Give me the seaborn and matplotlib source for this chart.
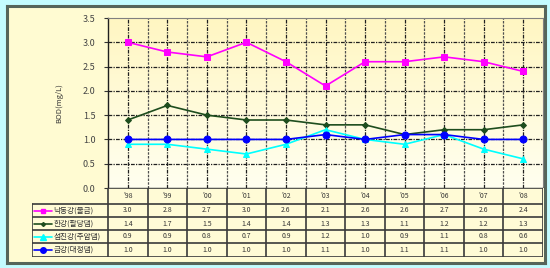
import numpy as np
import pandas as pd
import matplotlib
matplotlib.use('Agg')
import matplotlib.pyplot as plt
import seaborn as sns

years = ["'98", "'99", "'00", "'01", "'02", "'03", "'04", "'05", "'06", "'07", "'08"]
series_names = ['낙동강(물금)', '한강(팔당댐)', '섬진강(주암댐)', '금강(대청댐)']
nakdong = [3.0, 2.8, 2.7, 3.0, 2.6, 2.1, 2.6, 2.6, 2.7, 2.6, 2.4]
han = [1.4, 1.7, 1.5, 1.4, 1.4, 1.3, 1.3, 1.1, 1.2, 1.2, 1.3]
seomjin = [0.9, 0.9, 0.8, 0.7, 0.9, 1.2, 1.0, 0.9, 1.1, 0.8, 0.6]
geum = [1.0, 1.0, 1.0, 1.0, 1.0, 1.1, 1.0, 1.1, 1.1, 1.0, 1.0]
yticks = [0.0, 0.5, 1.0, 1.5, 2.0, 2.5, 3.0, 3.5]
ylabel = 'BOD(mg/L)'

all_series = [nakdong, han, seomjin, geum]
colors = ['#ff00ff', '#1e4d1e', '#00ffff', '#0000ff']
markers = ['s', 'D', '^', 'o']
msizes = [4.5, 3, 5, 5]

sns.set_style('white')
plt.rcParams['font.family'] = ['Noto Sans CJK KR', 'DejaVu Sans']

W, H = 550, 268
fig = plt.figure(figsize=(W / 100, H / 100), dpi=100)
fig.patch.set_facecolor('#c4fcff')

def px_rect(x0, y0, x1, y1):
    return [x0 / W, 1 - y1 / H, (x1 - x0) / W, (y1 - y0) / H]

# panel background
panel = fig.add_axes(px_rect(7, 6, 545, 263))
panel.set_xlim(0, 1); panel.set_ylim(0, 1)
panel.set_facecolor('#fffbd2')
panel.set_xticks([]); panel.set_yticks([])
for s in panel.spines.values():
    s.set_color('#56655a'); s.set_linewidth(2.2)
panel.set_zorder(0)

# main axes
ax = fig.add_axes(px_rect(108, 18, 543, 188))
ax.set_zorder(2)
grad = np.linspace(0, 1, 100).reshape(-1, 1)
top = np.array([1.0, 0.965, 0.76]); bot = np.array([1.0, 1.0, 0.94])
img = top[None, None, :] * (1 - grad[:, :, None]) + bot[None, None, :] * grad[:, :, None]
ax.imshow(img, extent=[-0.5, 10.5, 0, 3.5], aspect='auto', zorder=0, origin='upper')

df = pd.DataFrame({'x': np.tile(np.arange(len(years)), len(series_names)),
                   'y': np.concatenate(all_series),
                   'series': np.repeat(series_names, len(years))})
for name, c, m, ms in zip(series_names, colors, markers, msizes):
    sub = df[df['series'] == name]
    sns.lineplot(data=sub, x='x', y='y', ax=ax, color=c, marker=m, markersize=ms,
                 markeredgecolor=c, linewidth=1.2, zorder=5, legend=False)

ax.set_xlim(-0.5, 10.5)
ax.set_ylim(0, 3.5)
ax.set_yticks(yticks)
ax.set_yticklabels([f'{v:.1f}' for v in yticks], fontsize=6.5, color='#444444')
ax.set_xticks([])
ax.set_xlabel('')
ax.set_ylabel(ylabel, fontsize=5.5, color='#333333', labelpad=14)
ax.tick_params(axis='y', length=3, width=0.8, color='#333333', pad=6, left=True)
for v in yticks[1:-1]:
    ax.axhline(v, color='#202020', linewidth=0.9, linestyle=(0, (3, 1, 1, 1)), zorder=1)
for k in range(len(years)):
    ax.axvline(k, color='#202020', linewidth=0.9, linestyle=(0, (3, 1, 1, 1)), zorder=1)
    if k > 0:
        ax.axvline(k - 0.5, color='#505050', linewidth=0.9, linestyle=(0, (2, 1)), zorder=1)
for side in ['left', 'bottom']:
    ax.spines[side].set_color('#202020'); ax.spines[side].set_linewidth(1.0)
for side in ['top', 'right']:
    ax.spines[side].set_color('#808080'); ax.spines[side].set_linewidth(0.8)

# data table
tab = fig.add_axes(px_rect(32, 188, 543, 257))
tab.set_zorder(3)
tab.set_xlim(32, 543); tab.set_ylim(257, 188)
tab.axis('off')
col_w = (543 - 108) / len(years)
row_edges = [188, 204, 217, 230, 243, 257]
for i in range(len(series_names)):
    y0, y1 = row_edges[i + 1], row_edges[i + 2]
    tab.fill_between([32, 543], y0, y1, color='#fffbd6', zorder=0)
tab.fill_between([108, 543], 188, 204, color='#fffbd6', zorder=0)
lc = '#3a3a3a'
tab.plot([108, 543], [188, 188], color=lc, lw=1.2)
for y in row_edges[1:]:
    tab.plot([32, 543], [y, y], color=lc, lw=1.2)
tab.plot([32, 32], [204, 257], color=lc, lw=1.2)
for k in range(len(years) + 1):
    x = 108 + k * col_w
    tab.plot([x, x], [188, 257], color=lc, lw=1.2)
for k, yr in enumerate(years):
    tab.text(108 + (k + 0.5) * col_w, 196.5, yr, ha='center', va='center', fontsize=5, color='#333333')
for i, (name, vals, c, m, ms) in enumerate(zip(series_names, all_series, colors, markers, msizes)):
    yc = (row_edges[i + 1] + row_edges[i + 2]) / 2
    tab.plot([34, 52], [yc, yc], color=c, lw=1.2)
    tab.plot([43], [yc], marker=m, color=c, markersize=ms - 1, markeredgecolor=c)
    tab.text(53.5, yc, name, ha='left', va='center', fontsize=5.5, color='#333333')
    for k, v in enumerate(vals):
        tab.text(108 + (k + 0.5) * col_w, yc, f'{v:.1f}', ha='center', va='center',
                 fontsize=5, color='#333333')

fig.savefig('out.png', dpi=100, facecolor=fig.get_facecolor())
